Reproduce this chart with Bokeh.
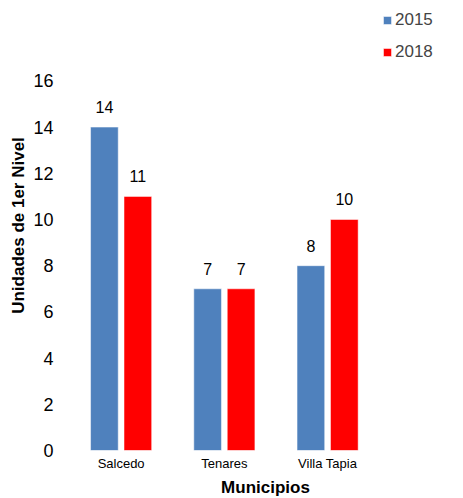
import numpy as np
from bokeh.plotting import figure
from bokeh.models import ColumnDataSource, Range1d, FixedTicker, LabelSet, Legend, LegendItem
from bokeh.core.properties import value
from bokeh.embed import file_html
from bokeh.resources import INLINE

municipios = ["Salcedo", "Tenares", "Villa Tapia"]
v2015 = [14, 7, 8]
v2018 = [11, 7, 10]
y_ticks = [0, 2, 4, 6, 8, 10, 12, 14, 16]

xpos = np.arange(len(municipios)) + 0.5
src = ColumnDataSource(dict(xa=xpos - 0.162, xb=xpos + 0.162, a=v2015, b=v2018,
                            la=[str(v) for v in v2015], lb=[str(v) for v in v2018]))

FONT = "Liberation Sans"
p = figure(x_range=Range1d(0, 3.797), y_range=Range1d(0, 19.48),
           frame_width=392, frame_height=450, output_backend="svg", toolbar_location=None,
           min_border_left=69, min_border_right=0, min_border_top=0, min_border_bottom=47)
p.outline_line_color = None
p.grid.grid_line_color = None
p.background_fill_color = "white"
p.border_fill_color = "white"

r1 = p.vbar(x="xa", top="a", width=0.268, source=src,
            fill_color="#4F81BD", line_color="white", line_width=0.5)
r2 = p.vbar(x="xb", top="b", width=0.268, source=src,
            fill_color="#FF0000", line_color="white", line_width=0.5)

for xc, col, lab in (("xa", "a", "la"), ("xb", "b", "lb")):
    p.add_layout(LabelSet(x=xc, y=col, text=lab, source=src,
                          text_align="center", text_baseline="alphabetic", y_offset=14,
                          text_font=value(FONT), text_font_size="16px", text_color="black"))

p.yaxis.ticker = FixedTicker(ticks=y_ticks)
p.xaxis.ticker = FixedTicker(ticks=list(xpos))
p.xaxis.major_label_overrides = {float(x): m for x, m in zip(xpos, municipios)}
for ax in (p.xaxis, p.yaxis):
    ax.axis_line_color = None
    ax.major_tick_line_color = None
    ax.minor_tick_line_color = None
    ax.major_tick_out = 0
    ax.major_tick_in = 0
    ax.minor_tick_out = 0
    ax.minor_tick_in = 0
    ax.major_label_text_font = FONT
    ax.axis_label_text_font = FONT
    ax.axis_label_text_font_style = "bold"
    ax.axis_label_text_font_size = "17px"
    ax.axis_label_text_color = "black"
    ax.major_label_text_color = "black"
p.yaxis.major_label_text_font_size = "18px"
p.yaxis.major_label_standoff = 16
p.yaxis.axis_label = "Unidades de 1er Nivel"
p.yaxis.axis_label_standoff = 2
p.xaxis.major_label_text_font_size = "13px"
p.xaxis.major_label_standoff = 5
p.xaxis.axis_label = "Municipios"
p.xaxis.axis_label_standoff = 4

legend = Legend(items=[LegendItem(label="2015", renderers=[r1]),
                       LegendItem(label="2018", renderers=[r2])],
                location=(313, 388), orientation="vertical",
                glyph_width=10, glyph_height=10, label_standoff=3, spacing=12,
                label_height=20, label_text_font=FONT, label_text_font_size="17px",
                border_line_color=None, background_fill_alpha=0,
                padding=0, margin=0)
p.add_layout(legend, "center")

open("out.html", "w").write(file_html(p, INLINE))
